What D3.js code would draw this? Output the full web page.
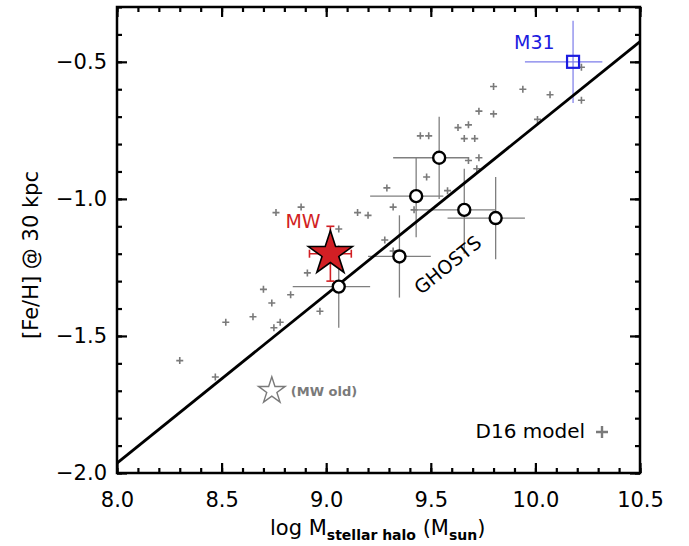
<!DOCTYPE html>
<html>
<head>
<meta charset="utf-8">
<script src="https://cdn.jsdelivr.net/npm/d3@7"></script>
<style>
  body { margin: 0; background: #fff; }
  svg { display: block; font-family: "DejaVu Sans", sans-serif; }
</style>
</head>
<body>
<svg id="chart"></svg>
<script>
// D16 model points (grey plus signs)
const modelMass = [8.30, 8.47, 8.52, 8.65, 8.70, 8.74, 8.75, 8.78, 8.83, 8.97,
                   8.91, 8.76, 8.88, 9.06, 9.15, 9.20, 9.29, 9.32, 9.28, 9.32,
                   9.42, 9.45, 9.49, 9.48, 9.58, 9.63, 9.68, 9.66, 9.71, 9.68,
                   9.73, 9.72, 9.73, 9.80, 9.80, 9.94, 10.07, 10.01, 10.22, 10.22];
const modelFeH  = [-1.59, -1.65, -1.45, -1.43, -1.33, -1.38, -1.47, -1.45, -1.35, -1.41,
                   -1.27, -1.05, -1.03, -1.11, -1.05, -1.06, -0.96, -1.03, -1.15, -1.19,
                   -1.04, -0.77, -0.77, -0.92, -0.97, -0.74, -0.73, -0.78, -0.78, -0.86,
                   -0.85, -0.89, -0.68, -0.69, -0.59, -0.60, -0.62, -0.71, -0.64, -0.52];

// GHOSTS galaxies (open circles with error bars)
const ghostsMass   = [9.54, 9.43, 9.66, 9.81, 9.35, 9.06];
const ghostsMassLo = [9.32, 9.21, 9.43, 9.58, 9.20, 8.84];
const ghostsMassHi = [9.68, 9.56, 9.81, 9.95, 9.50, 9.21];
const ghostsFeH    = [-0.85, -0.99, -1.04, -1.07, -1.21, -1.32];
const ghostsFeHLo  = [-1.00, -1.14, -1.20, -1.22, -1.36, -1.47];
const ghostsFeHHi  = [-0.70, -0.85, -0.89, -0.92, -1.06, -1.17];

// Milky Way, old MW estimate, M31
const mw = { mass: 9.02, massLo: 8.92, massHi: 9.12, feh: -1.20, fehLo: -1.30, fehHi: -1.10 };
const mwOld = { mass: 8.74, feh: -1.70 };
const m31 = { mass: 10.18, massLo: 9.95, massHi: 10.32, feh: -0.50, fehLo: -0.65, fehHi: -0.35 };

// fitted relation
const fitMass = [8.0, 10.5];
const fitFeH  = [-1.964, -0.426];

// axis ticks
const xTicks = [8.0, 8.5, 9.0, 9.5, 10.0, 10.5];
const yTicks = [-2.0, -1.5, -1.0, -0.5];

const W = 689, H = 546;
const margin = { top: 7, right: 49, bottom: 73, left: 117 };
const width = W - margin.left - margin.right;
const height = H - margin.top - margin.bottom;

const root = d3.select("#chart").attr("width", W).attr("height", H);
const svg = root.append("g").attr("transform", `translate(${margin.left},${margin.top})`);

const x = d3.scaleLinear().domain([8.0, 10.5]).range([0, width]);
const y = d3.scaleLinear().domain([-2.0, -0.3]).range([height, 0]);

const xMinor = d3.range(80, 106).map(d => d / 10);
const yMinor = d3.range(-20, -2).map(d => d / 10);
const fmt = d => d3.format(".1f")(d).replace("-", "\u2212");

// axes, ticks pointing inward on all four sides
function styleAxis(g) {
  g.select(".domain").remove();
  g.selectAll(".tick line").attr("stroke", "#000").attr("stroke-width", 2.2);
  g.selectAll("text").attr("fill", "#000").style("font-size", "21px")
    .style("font-family", "DejaVu Sans, sans-serif");
}
svg.append("g").attr("transform", `translate(0,${height})`)
  .call(d3.axisBottom(x).tickValues(xTicks).tickSize(-10).tickPadding(19).tickFormat(fmt)).call(styleAxis);
svg.append("g").attr("transform", `translate(0,${height})`)
  .call(d3.axisBottom(x).tickValues(xMinor).tickSize(-5).tickFormat("")).call(styleAxis);
svg.append("g")
  .call(d3.axisTop(x).tickValues(xTicks).tickSize(-10).tickFormat("")).call(styleAxis);
svg.append("g")
  .call(d3.axisTop(x).tickValues(xMinor).tickSize(-5).tickFormat("")).call(styleAxis);
svg.append("g")
  .call(d3.axisLeft(y).tickValues(yTicks).tickSize(-10).tickPadding(10).tickFormat(fmt)).call(styleAxis);
svg.append("g")
  .call(d3.axisLeft(y).tickValues(yMinor).tickSize(-5).tickFormat("")).call(styleAxis);
svg.append("g").attr("transform", `translate(${width},0)`)
  .call(d3.axisRight(y).tickValues(yTicks).tickSize(-10).tickFormat("")).call(styleAxis);
svg.append("g").attr("transform", `translate(${width},0)`)
  .call(d3.axisRight(y).tickValues(yMinor).tickSize(-5).tickFormat("")).call(styleAxis);

// model plus signs
svg.append("g").selectAll("path")
  .data(modelMass.map((m, i) => [m, modelFeH[i]]))
  .join("path")
  .attr("transform", d => `translate(${x(d[0])},${y(d[1])})`)
  .attr("d", "M-3.5,0H3.5M0,-3.5V3.5")
  .attr("stroke", "#7a7a7a").attr("stroke-width", 1.6);

// GHOSTS error bars
const gErr = svg.append("g").attr("stroke", "#7f7f7f").attr("stroke-width", 1.3);
ghostsMass.forEach((m, i) => {
  gErr.append("line").attr("x1", x(ghostsMassLo[i])).attr("x2", x(ghostsMassHi[i]))
    .attr("y1", y(ghostsFeH[i])).attr("y2", y(ghostsFeH[i]));
  gErr.append("line").attr("x1", x(m)).attr("x2", x(m))
    .attr("y1", y(ghostsFeHLo[i])).attr("y2", y(ghostsFeHHi[i]));
});

// M31 error bars
const mErr = svg.append("g").attr("stroke", "#7c7cea").attr("stroke-width", 1.2);
mErr.append("line").attr("x1", x(m31.massLo)).attr("x2", x(m31.massHi))
  .attr("y1", y(m31.feh)).attr("y2", y(m31.feh));
mErr.append("line").attr("x1", x(m31.mass)).attr("x2", x(m31.mass))
  .attr("y1", y(m31.fehLo)).attr("y2", y(m31.fehHi));

// fit line
svg.append("path")
  .datum(fitMass.map((m, i) => [m, fitFeH[i]]))
  .attr("d", d3.line().x(d => x(d[0])).y(d => y(d[1])))
  .attr("fill", "none").attr("stroke", "#000").attr("stroke-width", 2.8);

// GHOSTS circles
svg.append("g").selectAll("circle")
  .data(ghostsMass.map((m, i) => [m, ghostsFeH[i]]))
  .join("circle")
  .attr("cx", d => x(d[0])).attr("cy", d => y(d[1])).attr("r", 6)
  .attr("fill", "#fff").attr("stroke", "#000").attr("stroke-width", 2.4);

// M31 square
svg.append("rect")
  .attr("x", x(m31.mass) - 6).attr("y", y(m31.feh) - 6)
  .attr("width", 12).attr("height", 12)
  .attr("fill", "none").attr("stroke", "#1c1ce0").attr("stroke-width", 2.2);
svg.append("text").attr("x", x(m31.mass) - 59).attr("y", y(m31.feh) - 13)
  .attr("fill", "#1c1ce0").style("font-size", "19px").text("M31");

// MW error bars with caps
const red = "#d21f24";
const mwErr = svg.append("g").attr("stroke", red).attr("stroke-width", 1.6);
mwErr.append("line").attr("x1", x(mw.massLo)).attr("x2", x(mw.massHi))
  .attr("y1", y(mw.feh)).attr("y2", y(mw.feh));
mwErr.append("line").attr("x1", x(mw.mass)).attr("x2", x(mw.mass))
  .attr("y1", y(mw.fehLo)).attr("y2", y(mw.fehHi));
[mw.massLo, mw.massHi].forEach(m => mwErr.append("line")
  .attr("x1", x(m)).attr("x2", x(m)).attr("y1", y(mw.feh) - 4).attr("y2", y(mw.feh) + 4));
[mw.fehLo, mw.fehHi].forEach(f => mwErr.append("line")
  .attr("x1", x(mw.mass) - 4).attr("x2", x(mw.mass) + 4).attr("y1", y(f)).attr("y2", y(f)));

// MW star
svg.append("path")
  .attr("transform", `translate(${x(mw.mass)},${y(mw.feh)})`)
  .attr("d", d3.symbol(d3.symbolStar, 600)())
  .attr("fill", red).attr("stroke", "#000").attr("stroke-width", 1.6);
svg.append("text").attr("x", x(mw.mass) - 45).attr("y", y(mw.feh) - 26)
  .attr("fill", red).style("font-size", "19px").text("MW");

// old MW estimate
svg.append("path")
  .attr("transform", `translate(${x(mwOld.mass)},${y(mwOld.feh)})`)
  .attr("d", d3.symbol(d3.symbolStar, 220)())
  .attr("fill", "none").attr("stroke", "#7a7a7a").attr("stroke-width", 1.4);
svg.append("text").attr("x", x(mwOld.mass) + 19).attr("y", y(mwOld.feh) + 5)
  .attr("fill", "#7a7a7a").style("font-size", "13px").style("font-weight", "bold").text("(MW old)");

// GHOSTS label along the line
svg.append("text")
  .attr("transform", `translate(${x(9.58)},${y(-1.24)}) rotate(-39)`)
  .attr("text-anchor", "middle").attr("dominant-baseline", "central")
  .style("font-size", "19px").attr("fill", "#000").text("GHOSTS");

// legend for the model
svg.append("text").attr("x", width - 55).attr("y", height - 35)
  .attr("text-anchor", "end").style("font-size", "20px").attr("fill", "#000").text("D16 model");
svg.append("path")
  .attr("transform", `translate(${width - 38},${height - 41})`)
  .attr("d", "M-6,0H6M0,-6V6").attr("stroke", "#7a7a7a").attr("stroke-width", 2.4);

// frame
svg.append("rect").attr("width", width).attr("height", height)
  .attr("fill", "none").attr("stroke", "#000").attr("stroke-width", 2.5);

// axis titles
const xt = root.append("text").attr("x", 270).attr("y", 535).style("font-size", "21px").attr("fill", "#000");
xt.append("tspan").text("log M");
xt.append("tspan").attr("dy", 5).style("font-size", "14px").style("font-weight", "bold").text("stellar halo");
xt.append("tspan").attr("dy", -5).text(" (M");
xt.append("tspan").attr("dy", 5).style("font-size", "14px").style("font-weight", "bold").text("sun");
xt.append("tspan").attr("dy", -5).text(")");

root.append("text")
  .attr("transform", "translate(38,255) rotate(-90)")
  .attr("text-anchor", "middle").style("font-size", "21px").attr("fill", "#000")
  .text("[Fe/H] @ 30 kpc");
</script>
</body>
</html>
